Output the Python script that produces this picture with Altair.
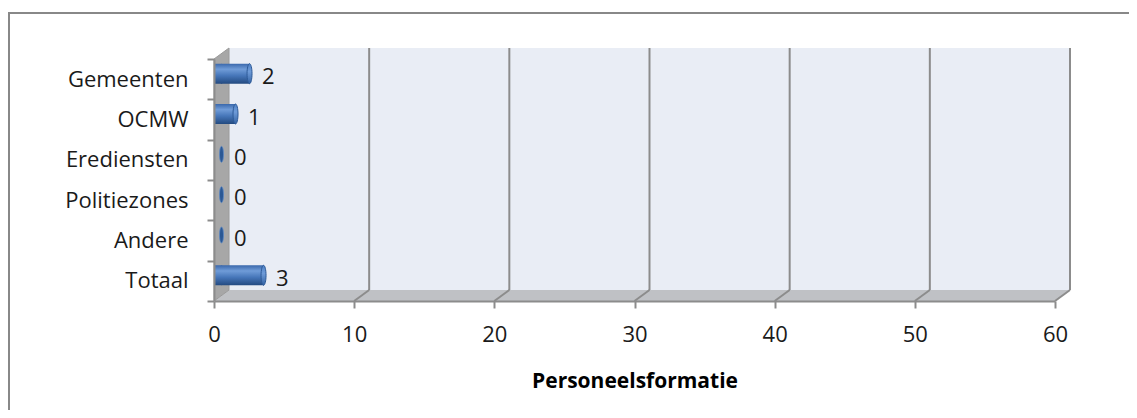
import altair as alt
import pandas as pd

# ---- data ----
categories = ["Gemeenten", "OCMW", "Erediensten", "Politiezones", "Andere", "Totaal"]
values = [2, 1, 0, 0, 0, 3]
x_ticks = [0, 10, 20, 30, 40, 50, 60]
x_title = "Personeelsformatie"

# ---- layout constants ----
W, H = 841, 242          # front plot area
DX, DY = 15, 11          # 3-D depth offset
PAD_L, PAD_T = 206, 51
CANVAS_W, CANVAS_H = 1121, 402
BAR = 20
FONT = "Open Sans"
FS = 22
GRAY = "#8C8C8C"
TXT = "#1a1a1a"

df = pd.DataFrame({"cat": categories, "val": values})

# ---- decoration layer (pixel scales) ----
pxs = alt.Scale(domain=[0, W], nice=False, zero=False)
pys = alt.Scale(domain=[0, H], nice=False, zero=False, reverse=True)

border = alt.Chart(pd.DataFrame({"k": [0]})).mark_rect(
    fillOpacity=0, stroke="#888888", strokeWidth=2
).encode(
    x=alt.value(-(PAD_L - 1)), x2=alt.value(W + 120),
    y=alt.value(-46), y2=alt.value(H + 150)
)

back_df = pd.DataFrame({"x": [DX], "x2": [W + DX], "y": [-DY], "y2": [H - DY]})
back_wall = alt.Chart(back_df).mark_rect(fill="#E9EDF5").encode(
    x=alt.X("x:Q", scale=pxs, axis=None), x2="x2:Q",
    y=alt.Y("y:Q", scale=pys, axis=None), y2="y2:Q"
)

floor_df = pd.DataFrame({"y": [H - DY, H], "x": [DX, 0], "x2": [W + DX, W]})
floor = alt.Chart(floor_df).mark_area(orient="horizontal", fill="#BFC1C5").encode(
    y=alt.Y("y:Q", scale=pys, axis=None),
    x=alt.X("x:Q", scale=pxs, axis=None), x2="x2:Q"
)

side_df = pd.DataFrame({"x": [0, DX], "y": [0, -DY], "y2": [H, H - DY]})
side = alt.Chart(side_df).mark_area(
    orient="vertical", fill="#A7A7A7", stroke="#9A9A9A", strokeWidth=1
).encode(
    x=alt.X("x:Q", scale=pxs, axis=None),
    y=alt.Y("y:Q", scale=pys, axis=None), y2="y2:Q"
)

deco = alt.layer(border, back_wall, floor, side)

# ---- data layer ----
xs = alt.Scale(domain=[0, 60], nice=False, zero=True)
x_axis = alt.Axis(
    values=x_ticks, orient="bottom", grid=False, tickSize=7, tickColor=GRAY, tickWidth=2,
    domainColor=GRAY, domainWidth=2, labelFont=FONT, labelFontSize=FS, labelColor=TXT,
    labelPadding=16, labelFlush=False, labelOverlap=False,
    title=x_title, titleFont=FONT, titleFontSize=21, titleFontWeight="bold",
    titleColor="#000000", titlePadding=25, zindex=1
)
ys = alt.Scale(domain=categories, paddingInner=0, paddingOuter=0)
y_axis = alt.Axis(
    orient="left", title=None, tickBand="extent", tickSize=7, tickColor=GRAY, tickWidth=2,
    domainColor=GRAY, domainWidth=2, labelFont=FONT, labelFontSize=FS, labelColor=TXT,
    labelPadding=19, zindex=1
)

grid_df = pd.DataFrame({"t": x_ticks[1:]})
grid_back = alt.Chart(grid_df).mark_rule(color=GRAY, strokeWidth=2, xOffset=DX).encode(
    x=alt.X("t:Q", scale=xs, axis=x_axis),
    y=alt.value(-DY), y2=alt.value(H - DY)
)
grid_diag = alt.Chart(grid_df).mark_rule(color=GRAY, strokeWidth=2, xOffset=DX, x2Offset=0).encode(
    x=alt.X("t:Q", scale=xs), x2=alt.X2("t:Q"),
    y=alt.value(H - DY), y2=alt.value(H)
)

body_grad = alt.Gradient(
    gradient="linear", x1=0, x2=0, y1=0, y2=1,
    stops=[
        alt.GradientStop(color="#3A68AC", offset=0),
        alt.GradientStop(color="#709CD8", offset=0.28),
        alt.GradientStop(color="#4676B9", offset=0.6),
        alt.GradientStop(color="#234A80", offset=1),
    ],
)
cap_grad = alt.Gradient(
    gradient="linear", x1=0, x2=0, y1=0, y2=1,
    stops=[
        alt.GradientStop(color="#4F82C6", offset=0),
        alt.GradientStop(color="#6E9BD8", offset=0.4),
        alt.GradientStop(color="#3463A4", offset=1),
    ],
)
ELLIPSE = "M0,-1 A0.25,1 0 1,1 0,1 A0.25,1 0 1,1 0,-1 Z"

base = alt.Chart(df)
y_enc = alt.Y("cat:N", sort=categories, scale=ys, axis=y_axis)

left_ell = base.transform_filter("datum.val > 0").mark_point(
    shape=ELLIPSE, size=BAR * BAR, filled=True, fill=body_grad, opacity=1,
    xOffset=DX / 2, yOffset=-DY / 2
).encode(x=alt.datum(0, scale=xs), y=y_enc)

bars = base.transform_filter("datum.val > 0").mark_bar(
    size=BAR, color=body_grad, xOffset=DX / 2, x2Offset=DX / 2, yOffset=-DY / 2
).encode(x=alt.X("val:Q", scale=xs, stack=None), y=y_enc)

caps = base.transform_filter("datum.val > 0").mark_point(
    shape=ELLIPSE, size=BAR * BAR, filled=True, fill=cap_grad, opacity=1,
    stroke="#2D5A98", strokeWidth=1, xOffset=DX / 2, yOffset=-DY / 2
).encode(x=alt.X("val:Q", scale=xs), y=y_enc)

zero_ell = base.transform_filter("datum.val == 0").mark_point(
    shape=ELLIPSE, size=(BAR - 4) ** 2, filled=True, fill="#2B5894", opacity=1,
    stroke="#5C88C4", strokeWidth=0.8, xOffset=DX / 2, yOffset=-DY / 2
).encode(x=alt.X("val:Q", scale=xs), y=y_enc)

labels = base.mark_text(
    align="left", baseline="middle", dx=DX / 2 + 12.5, dy=-2,
    font=FONT, fontSize=FS, color=TXT
).encode(x=alt.X("val:Q", scale=xs), y=y_enc, text="val:Q")

data_layer = alt.layer(grid_back, grid_diag, left_ell, bars, caps, zero_ell, labels)

chart = alt.layer(deco, data_layer).resolve_scale(
    x="independent", y="independent"
).properties(
    width=W, height=H,
    padding={"left": PAD_L, "top": PAD_T, "right": CANVAS_W - PAD_L - W, "bottom": CANVAS_H - PAD_T - H},
    autosize=alt.AutoSizeParams(type="none"),
    background="white",
).configure_view(stroke=None)

chart.save("out.html", embed_options={"renderer": "svg", "actions": False})
